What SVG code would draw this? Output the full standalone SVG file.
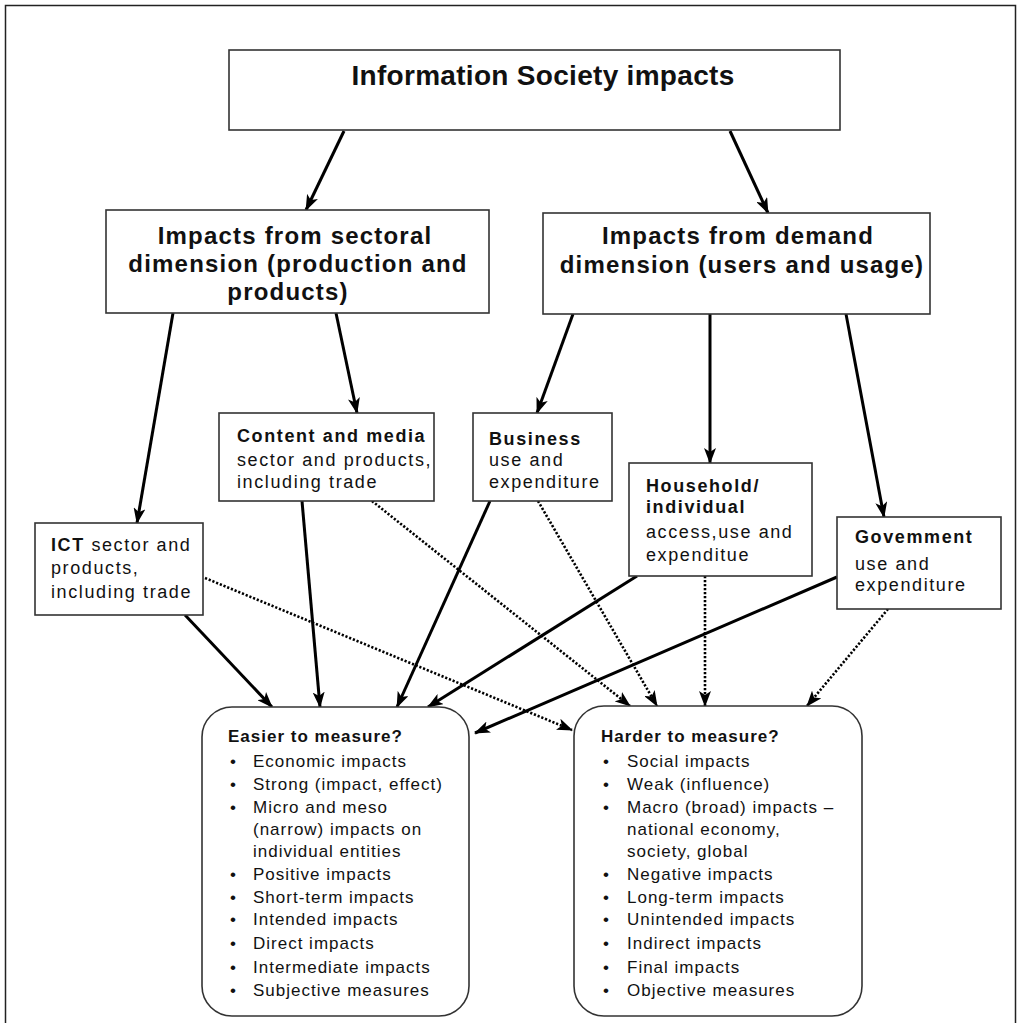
<svg xmlns="http://www.w3.org/2000/svg" width="1020" height="1023" viewBox="0 0 1020 1023">
<defs>
<style>
.box{fill:#fff;stroke:#333;stroke-width:1.6}
.t{font-family:"Liberation Sans",Arial,sans-serif;fill:#111}
.h1{font-size:28px;font-weight:bold;letter-spacing:0.3px}
.h2{font-size:24px;font-weight:bold;letter-spacing:1.2px}
.s{font-size:18px;letter-spacing:1.6px}
.sb{font-size:18px;font-weight:bold;letter-spacing:1.6px}
.l{font-size:17px;letter-spacing:1px}
.lb{font-size:17px;font-weight:bold;letter-spacing:1px}
.solid{stroke:#000;stroke-width:3;fill:none;marker-end:url(#ah)}
.dot{stroke:#000;stroke-width:2.6;stroke-dasharray:2.2 1.8;fill:none;marker-end:url(#ah)}
</style>
<marker id="ah" viewBox="0 0 16 12" markerWidth="16" markerHeight="12" refX="15" refY="6" orient="auto" markerUnits="userSpaceOnUse">
<path d="M0,0 L16,6 L0,12 L4,6 Z" fill="#000"/>
</marker>
</defs>
<rect x="0" y="0" width="1020" height="1023" fill="#fff"/>
<path d="M5.5,1023 V5.5 H1015.5 V1023" fill="none" stroke="#222" stroke-width="1.5"/>

<g id="connectors">
<line class="solid" x1="344" y1="131" x2="306" y2="210"/>
<line class="solid" x1="730" y1="131" x2="768" y2="213"/>
<line class="solid" x1="173" y1="313" x2="137" y2="523"/>
<line class="solid" x1="336" y1="313" x2="357" y2="413"/>
<line class="solid" x1="573" y1="314" x2="537" y2="413"/>
<line class="solid" x1="710" y1="314" x2="710" y2="463"/>
<line class="solid" x1="846" y1="314" x2="884" y2="517"/>
<line class="solid" x1="185" y1="615" x2="272" y2="707"/>
<line class="solid" x1="302" y1="501" x2="320" y2="707"/>
<line class="solid" x1="490" y1="501" x2="397" y2="707"/>
<line class="solid" x1="637" y1="576" x2="428" y2="707"/>
<line class="solid" x1="837" y1="577" x2="475" y2="733"/>
<line class="dot" x1="205" y1="578" x2="572" y2="730"/>
<line class="dot" x1="372" y1="501" x2="630" y2="706"/>
<line class="dot" x1="538" y1="501" x2="657" y2="706"/>
<line class="dot" x1="705" y1="576" x2="705" y2="706"/>
<line class="dot" x1="888" y1="609" x2="807" y2="706"/>
</g>

<g id="top">
<rect class="box" x="229" y="50" width="611" height="80"/>
<text class="t h1" x="543" y="85" text-anchor="middle">Information Society impacts</text>
</g>

<g id="sectoral">
<rect class="box" x="106" y="210" width="383" height="103"/>
<text class="t h2" x="295" y="244" text-anchor="middle">Impacts from sectoral</text>
<text class="t h2" x="298" y="272" text-anchor="middle">dimension (production and</text>
<text class="t h2" x="288" y="300" text-anchor="middle">products)</text>
</g>

<g id="demand">
<rect class="box" x="543" y="213" width="387" height="101"/>
<text class="t h2" x="738" y="244" text-anchor="middle">Impacts from demand</text>
<text class="t h2" x="742" y="273" text-anchor="middle">dimension (users and usage)</text>
</g>

<g id="content">
<rect class="box" x="219" y="413" width="215" height="88"/>
<text class="t sb" x="237" y="442">Content and media</text>
<text class="t s" x="237" y="466">sector and products,</text>
<text class="t s" x="237" y="488">including trade</text>
</g>

<g id="ict">
<rect class="box" x="35" y="523" width="168" height="92"/>
<text class="t s" x="51" y="551"><tspan font-weight="bold">ICT</tspan> sector and</text>
<text class="t s" x="51" y="574">products,</text>
<text class="t s" x="51" y="598">including trade</text>
</g>

<g id="business">
<rect class="box" x="473" y="413" width="139" height="88"/>
<text class="t sb" x="489" y="445">Business</text>
<text class="t s" x="489" y="466">use and</text>
<text class="t s" x="489" y="488">expenditure</text>
</g>

<g id="household">
<rect class="box" x="629" y="463" width="183" height="113"/>
<text class="t sb" x="646" y="492">Household/</text>
<text class="t sb" x="646" y="513">individual</text>
<text class="t s" x="646" y="538">access,use and</text>
<text class="t s" x="646" y="561">expenditue</text>
</g>

<g id="government">
<rect class="box" x="837" y="517" width="164" height="92"/>
<text class="t sb" x="855" y="543">Govemment</text>
<text class="t s" x="855" y="570">use and</text>
<text class="t s" x="855" y="591">expenditure</text>
</g>

<g id="easier">
<rect class="box" x="202" y="707" width="267" height="309" rx="30" ry="30"/>
<text class="t lb" x="228" y="742">Easier to measure?</text>
<g class="t l">
<text x="230" y="767">•</text><text x="253" y="767">Economic impacts</text>
<text x="230" y="790">•</text><text x="253" y="790">Strong (impact, effect)</text>
<text x="230" y="813">•</text><text x="253" y="813">Micro and meso</text>
<text x="253" y="835">(narrow) impacts on</text>
<text x="253" y="857">individual entities</text>
<text x="230" y="880">•</text><text x="253" y="880">Positive impacts</text>
<text x="230" y="903">•</text><text x="253" y="903">Short-term impacts</text>
<text x="230" y="925">•</text><text x="253" y="925">Intended impacts</text>
<text x="230" y="949">•</text><text x="253" y="949">Direct impacts</text>
<text x="230" y="973">•</text><text x="253" y="973">Intermediate impacts</text>
<text x="230" y="996">•</text><text x="253" y="996">Subjective measures</text>
</g>
</g>

<g id="harder">
<rect class="box" x="574" y="706" width="288" height="310" rx="30" ry="30"/>
<text class="t lb" x="601" y="742">Harder to measure?</text>
<g class="t l">
<text x="603" y="767">•</text><text x="627" y="767">Social impacts</text>
<text x="603" y="790">•</text><text x="627" y="790">Weak (influence)</text>
<text x="603" y="813">•</text><text x="627" y="813">Macro (broad) impacts –</text>
<text x="627" y="835">national economy,</text>
<text x="627" y="857">society, global</text>
<text x="603" y="880">•</text><text x="627" y="880">Negative impacts</text>
<text x="603" y="903">•</text><text x="627" y="903">Long-term impacts</text>
<text x="603" y="925">•</text><text x="627" y="925">Unintended impacts</text>
<text x="603" y="949">•</text><text x="627" y="949">Indirect impacts</text>
<text x="603" y="973">•</text><text x="627" y="973">Final impacts</text>
<text x="603" y="996">•</text><text x="627" y="996">Objective measures</text>
</g>
</g>
</svg>
